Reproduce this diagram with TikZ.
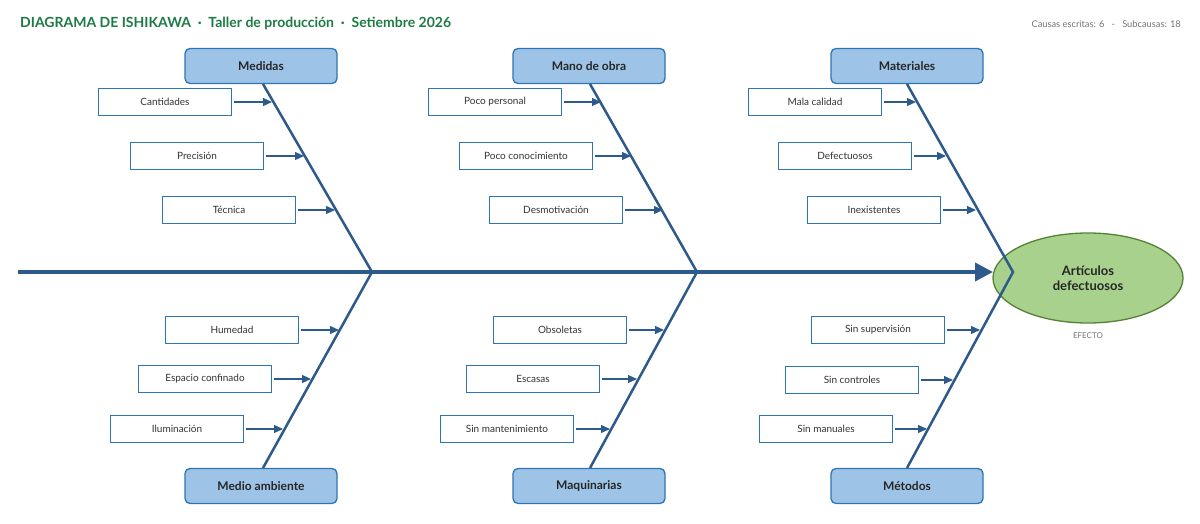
\documentclass[tikz,border=0pt]{standalone}
\usepackage{fontspec}
\setmainfont{Lato}
\usetikzlibrary{arrows.meta,shapes.geometric}
\definecolor{bone}{HTML}{2D5A8A}
\definecolor{catf}{HTML}{9DC3E6}
\definecolor{catd}{HTML}{2E75B6}
\definecolor{effF}{HTML}{A9D18E}
\definecolor{effD}{HTML}{548235}
\definecolor{ttl}{HTML}{1E7A45}
\begin{document}
\begin{tikzpicture}[x=1pt,y=-1pt,
 cat/.style={draw=catd,fill=catf,rounded corners=5pt,line width=1.3pt,minimum width=152pt,minimum height=35pt,font=\fontsize{12}{14}\selectfont\bfseries,text=black!85},
 sub/.style={draw=catd,fill=white,line width=0.9pt,minimum width=133pt,minimum height=27pt,font=\fontsize{10}{12}\selectfont,text=black!80},
 bn/.style={draw=bone,line width=2.5pt},
 sa/.style={draw=bone,line width=1.2pt,-{Triangle[length=9pt,width=8pt]}}]
\useasboundingbox (0,0) rectangle (1200,524);
\node[anchor=west,text=ttl,font=\fontsize{14}{16}\selectfont\bfseries,inner sep=0pt] (title) at (20,23) {DIAGRAMA DE ISHIKAWA \ \textperiodcentered\ \ Taller de producción \ \textperiodcentered\ \ Setiembre 2026};
\node[anchor=east,text=black!55,font=\fontsize{9.3}{11}\selectfont,inner sep=0pt] (stats) at (1181,24) {Causas escritas: 6 \ \ - \ \ Subcausas: 18};
% effect
\node[draw=effD,fill=effF,line width=1.3pt,ellipse,minimum width=190pt,minimum height=90pt,inner sep=0pt,align=center,font=\fontsize{13}{15}\selectfont\bfseries,text=black!85] (eff) at (1088,278) {Artículos\\defectuosos};
\node[text=black!55,font=\fontsize{8}{10}\selectfont] (efl) at (1088,336) {EFECTO};
% spine
\coordinate (s0) at (18,272);
\coordinate (j1) at (372,272);
\coordinate (j2) at (697,272);
\coordinate (j3) at (1013,272);
\draw[draw=bone,line width=4pt,-{Triangle[length=18pt,width=18pt]}] (s0) -- (993,272);
% categories
\node[cat] (c1) at (261,66) {Medidas};
\node[cat] (c2) at (589,66) {Mano de obra};
\node[cat] (c3) at (907,66) {Materiales};
\node[cat] (c4) at (261,486) {Medio ambiente};
\node[cat] (c5) at (589,486) {Maquinarias};
\node[cat] (c6) at (907,486) {Métodos};
\draw[bn] (263,84) -- (j1) -- (263,468);
\draw[bn] (590,84) -- (j2) -- (590,468);
\draw[bn] (907,84) -- (j3) -- (907,468);
% subcauses
\foreach \n/\x/\y/\t/\e in {a/165/102/Cantidades/272, b/197/156/Precisión/304, c/229/210/Técnica/335,
 d/495/102/Poco personal/601, e/526/156/Poco conocimiento/631, f/556/210/Desmotivación/663,
 g/815/102/Mala calidad/916, h/845/156/Defectuosos/946, i/874/210/Inexistentes/976,
 j/232/330/Humedad/339, k/205/379/Espacio confinado/311, l/177/429/Iluminación/283,
 m/560/330/Obsoletas/664, n/533/379/Escasas/637, o/507/429/Sin mantenimiento/610,
 p/878/330/Sin supervisión/980, q/852/380/Sin controles/953, r/826/429/Sin manuales/927}{
 \node[sub] (\n) at (\x,\y) {\t};
 \coordinate (\n e) at (\e,\y);
 \draw[sa] ([xshift=2pt]\n.east) -- (\n e);
}
\end{tikzpicture}
\end{document}
